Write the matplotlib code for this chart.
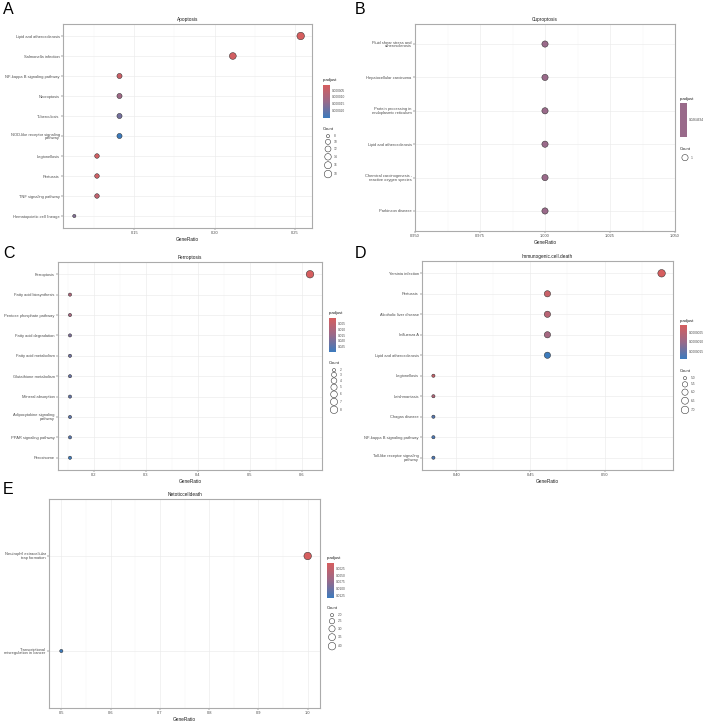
import numpy as np
import matplotlib
matplotlib.use("Agg")
import matplotlib.pyplot as plt
from matplotlib.colors import LinearSegmentedColormap

plt.rcParams['font.family'] = ['Liberation Sans', 'DejaVu Sans']

W, H = 708, 721

# ---------------- data ----------------
# A: Apoptosis
apo_terms = ["Lipid and atherosclerosis", "Salmonella infection", "NF-kappa B signaling pathway",
             "Necroptosis", "Tuberculosis", "NOD-like receptor signaling\npathway", "Legionellosis",
             "Pertussis", "TNF signaling pathway", "Hematopoietic cell lineage"]
apo_ratio = [0.2535, 0.2113, 0.1408, 0.1408, 0.1408, 0.1408, 0.1268, 0.1268, 0.1268, 0.1127]
apo_count = [18, 15, 10, 10, 10, 10, 9, 9, 9, 8]
apo_padj = [7e-7, 1.5e-6, 3.0e-6, 1.2e-5, 1.8e-5, 2.55e-5, 2.0e-6, 2.5e-6, 5.0e-6, 1.6e-5]
apo_xticks = [0.15, 0.20, 0.25]
apo_xlabels = ["0.15", "0.20", "0.25"]
apo_cbreaks = [8, 10, 12, 14, 16, 18]
apo_pbreaks = [0.000005, 0.000010, 0.000015, 0.000020]
apo_plabels = ["0.000005", "0.000010", "0.000015", "0.000020"]

# B: Cuproptosis
cup_terms = ["Fluid shear stress and\natherosclerosis", "Hepatocellular carcinoma",
             "Protein processing in\nendoplasmic reticulum", "Lipid and atherosclerosis",
             "Chemical carcinogenesis -\nreactive oxygen species", "Parkinson disease"]
cup_ratio = [1.0, 1.0, 1.0, 1.0, 1.0, 1.0]
cup_count = [1, 1, 1, 1, 1, 1]
cup_padj = [0.0264634] * 6
cup_xticks = [0.950, 0.975, 1.000, 1.025, 1.050]
cup_xlabels = ["0.950", "0.975", "1.000", "1.025", "1.050"]
cup_cbreaks = [1]
cup_pbreaks = [0.0264634]
cup_plabels = ["0.0264634"]

# C: Ferroptosis
fer_terms = ["Ferroptosis", "Fatty acid biosynthesis", "Pentose phosphate pathway",
             "Fatty acid degradation", "Fatty acid metabolism", "Glutathione metabolism",
             "Mineral absorption", "Adipocytokine signaling\npathway", "PPAR signaling pathway",
             "Peroxisome"]
fer_ratio = [0.6154, 0.1538, 0.1538, 0.1538, 0.1538, 0.1538, 0.1538, 0.1538, 0.1538, 0.1538]
fer_count = [8, 2, 2, 2, 2, 2, 2, 2, 2, 2]
fer_padj = [1e-6, 0.009, 0.011, 0.019, 0.021, 0.022, 0.023, 0.024, 0.025, 0.029]
fer_xticks = [0.2, 0.3, 0.4, 0.5, 0.6]
fer_xlabels = ["0.2", "0.3", "0.4", "0.5", "0.6"]
fer_cbreaks = [2, 3, 4, 5, 6, 7, 8]
fer_pbreaks = [0.005, 0.010, 0.015, 0.020, 0.025]
fer_plabels = ["0.005", "0.010", "0.015", "0.020", "0.025"]

# D: Immunogenic.cell.death
icd_terms = ["Yersinia infection", "Pertussis", "Alcoholic liver disease", "Influenza A",
             "Lipid and atherosclerosis", "Legionellosis", "Leishmaniasis", "Chagas disease",
             "NF-kappa B signaling pathway", "Toll-like receptor signaling\npathway"]
icd_ratio = [0.5385, 0.4615, 0.4615, 0.4615, 0.4615, 0.3846, 0.3846, 0.3846, 0.3846, 0.3846]
icd_count = [7, 6, 6, 6, 6, 5, 5, 5, 5, 5]
icd_padj = [5e-8, 2.5e-7, 5e-7, 8e-7, 1.9e-6, 3e-7, 6e-7, 1.65e-6, 1.75e-6, 1.75e-6]
icd_xticks = [0.40, 0.45, 0.50]
icd_xlabels = ["0.40", "0.45", "0.50"]
icd_cbreaks = [5.0, 5.5, 6.0, 6.5, 7.0]
icd_pbreaks = [0.0000005, 0.0000010, 0.0000015]
icd_plabels = ["0.0000005", "0.0000010", "0.0000015"]

# E: Netoticcelldeath
net_terms = ["Neutrophil extracellular\ntrap formation", "Transcriptional\nmisregulation in cancer"]
net_ratio = [1.0, 0.5]
net_count = [4, 2]
net_padj = [0.00025, 0.0134]
net_xticks = [0.5, 0.6, 0.7, 0.8, 0.9, 1.0]
net_xlabels = ["0.5", "0.6", "0.7", "0.8", "0.9", "1.0"]
net_cbreaks = [2.0, 2.5, 3.0, 3.5, 4.0]
net_pbreaks = [0.0025, 0.0050, 0.0075, 0.0100, 0.0125]
net_plabels = ["0.0025", "0.0050", "0.0075", "0.0100", "0.0125"]

cmap = LinearSegmentedColormap.from_list("padj", ["#d65e5f", "#9a6a8a", "#3d7bbd"])

fig = plt.figure(figsize=(W / 100, H / 100), dpi=100)


def px_axes(x0, y0, x1, y1):
    return fig.add_axes([x0 / W, 1 - y1 / H, (x1 - x0) / W, (y1 - y0) / H])


def dot_d(c, cmin, cmax):
    frac = 0.5 if cmax == cmin else (c - cmin) / (cmax - cmin)
    return 3.2 + 4.3 * np.sqrt(frac)


def pfrac(p, pmin, pmax):
    return 0.5 if pmax == pmin else (p - pmin) / (pmax - pmin)


overlay = fig.add_axes([0, 0, 1, 1], zorder=5)
overlay.set_xlim(0, W)
overlay.set_ylim(H, 0)
overlay.axis('off')


def panel(box, title, terms, ratio, count, padj, xticks, xlabels, cbreaks, pbreaks, plabels,
          leg_x, pt_y, bar, ct_y, gap):
    ax = px_axes(*box)
    n = len(terms)
    ypos = np.arange(1, n + 1)
    cmin, cmax = min(count), max(count)
    pmin, pmax = min(padj), max(padj)
    dia = [dot_d(c, cmin, cmax) for c in count]
    cols = [cmap(pfrac(p, pmin, pmax)) for p in padj]
    ax.scatter(ratio, ypos, s=[(d * 0.72) ** 2 for d in dia], c=cols,
               edgecolors='#2b2b2b', linewidths=0.35, zorder=3)
    lo, hi = min(ratio), max(ratio)
    if hi == lo:
        ax.set_xlim(lo * 0.95, hi * 1.05)
    else:
        pad = (hi - lo) * 0.05
        ax.set_xlim(lo - pad, hi + pad)
    ax.set_ylim(n + 0.6, 0.4)
    ax.set_yticks(ypos)
    ax.set_yticklabels(terms, fontsize=2.85, color='#4d4d4d', linespacing=0.95)
    ax.set_xticks(xticks)
    ax.set_xticklabels(xlabels, fontsize=2.85, color='#4d4d4d')
    step = xticks[1] - xticks[0]
    xl = ax.get_xlim()
    minors = [t - step / 2 for t in xticks] + [xticks[-1] + step / 2]
    minors = [m for m in minors if xl[0] < m < xl[1]]
    ax.set_xticks(minors, minor=True)
    ax.tick_params(which='major', length=1.2, width=0.3, color='#333333', pad=1.2)
    ax.tick_params(which='minor', length=0)
    ax.grid(True, which='major', color='#ebebeb', linewidth=0.45, zorder=0)
    ax.grid(True, which='minor', axis='x', color='#f2f2f2', linewidth=0.3, zorder=0)
    ax.set_axisbelow(True)
    for sp in ax.spines.values():
        sp.set_color('#ababab')
        sp.set_linewidth(0.8)
    ax.set_title(title, fontsize=3.4, pad=2.5, color='#1a1a1a')
    ax.set_xlabel("GeneRatio", fontsize=3.4, labelpad=1.0, color='#1a1a1a')

    # colour bar legend
    overlay.text(leg_x, pt_y, "p.adjust", fontsize=3.0, va='center', ha='left', color='#1a1a1a')
    grad = np.linspace(0, 1, 100).reshape(-1, 1)
    if pmax == pmin:
        grad = np.full((100, 1), 0.5)
    overlay.imshow(grad, cmap=cmap, vmin=0, vmax=1, aspect='auto', origin='upper',
                   extent=[leg_x, leg_x + 7, bar[1], bar[0]], interpolation='bilinear')
    for pb, lab in zip(pbreaks, plabels):
        yy = bar[0] + pfrac(pb, pmin, pmax) * (bar[1] - bar[0])
        overlay.text(leg_x + 9, yy, lab, fontsize=2.3, va='center', ha='left', color='#4d4d4d')

    # size legend
    overlay.text(leg_x, ct_y, "Count", fontsize=3.0, va='center', ha='left', color='#1a1a1a')
    yy = ct_y + 4
    prev = 0
    for i, cb in enumerate(cbreaks):
        d = dot_d(cb, cmin, cmax)
        yy = yy + (prev + d) / 2 + (gap if i > 0 else 1.5)
        overlay.scatter([leg_x + 5], [yy], s=(d * 0.72) ** 2, facecolors='none',
                        edgecolors='#3a3a3a', linewidths=0.4)
        lab = ("%g" % cb) if not isinstance(cb, float) else "%.1f" % cb
        overlay.text(leg_x + 11, yy, lab, fontsize=2.3, va='center', ha='left', color='#4d4d4d')
        prev = d
    return ax


panel((63, 24, 312, 228), "Apoptosis", apo_terms, apo_ratio, apo_count, apo_padj,
      apo_xticks, apo_xlabels, apo_cbreaks, apo_pbreaks, apo_plabels,
      323, 80, (85, 118), 129, 1.6)
panel((415, 24, 675, 231), "Cuproptosis", cup_terms, cup_ratio, cup_count, cup_padj,
      cup_xticks, cup_xlabels, cup_cbreaks, cup_pbreaks, cup_plabels,
      680, 99, (103, 137), 149, 1.6)
panel((58, 262, 322, 470), "Ferroptosis", fer_terms, fer_ratio, fer_count, fer_padj,
      fer_xticks, fer_xlabels, fer_cbreaks, fer_pbreaks, fer_plabels,
      329, 313, (318, 352), 363, 0.6)
panel((422, 261, 673, 470), "Immunogenic.cell.death", icd_terms, icd_ratio, icd_count, icd_padj,
      icd_xticks, icd_xlabels, icd_cbreaks, icd_pbreaks, icd_plabels,
      680, 321, (325, 359), 371, 2.0)
panel((49, 499, 320, 708), "Netoticcelldeath", net_terms, net_ratio, net_count, net_padj,
      net_xticks, net_xlabels, net_cbreaks, net_pbreaks, net_plabels,
      327, 558, (563, 598), 608, 1.8)

for letter, x, y in [("A", 3, 2), ("B", 355, 2), ("C", 3, 246), ("D", 355, 246), ("E", 3, 482)]:
    overlay.text(x, y, letter, fontsize=11.5, va='top', ha='left', color='black')

fig.savefig("out.png", dpi=100)
